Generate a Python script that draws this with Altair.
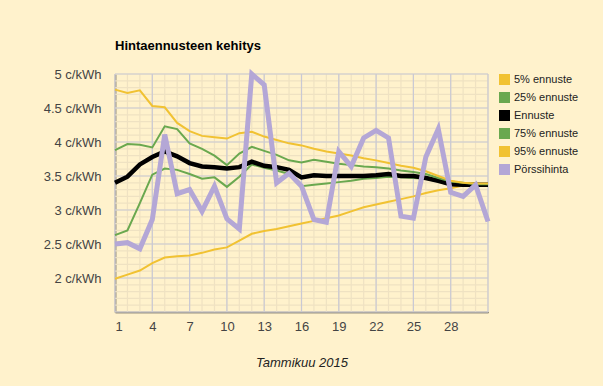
import altair as alt
import pandas as pd

days = list(range(1, 32))

series_names = ["5% ennuste", "25% ennuste", "Ennuste", "75% ennuste", "95% ennuste", "Pörssihinta"]
series_colors = ["#F1C232", "#6AA84F", "#000000", "#6AA84F", "#F1C232", "#B4A7D6"]
series_widths = [2, 2, 4.5, 2, 2, 5]

p5 = [1.99, 2.05, 2.11, 2.22, 2.30, 2.32, 2.33, 2.37, 2.42, 2.45, 2.55, 2.65, 2.69, 2.72, 2.76, 2.80,
      2.84, 2.88, 2.92, 2.98, 3.04, 3.08, 3.12, 3.16, 3.20, 3.25, 3.29, 3.32, 3.36, 3.37, 3.37]
p25 = [2.63, 2.70, 3.10, 3.52, 3.61, 3.59, 3.53, 3.46, 3.48, 3.34, 3.49, 3.67, 3.62, 3.58, 3.53, 3.35,
       3.37, 3.39, 3.41, 3.43, 3.46, 3.47, 3.49, 3.48, 3.47, 3.46, 3.42, 3.39, 3.37, 3.37, 3.37]
ennuste = [3.40, 3.49, 3.67, 3.78, 3.86, 3.79, 3.69, 3.64, 3.63, 3.61, 3.63, 3.71, 3.65, 3.63, 3.59, 3.48,
           3.51, 3.50, 3.50, 3.50, 3.50, 3.51, 3.53, 3.50, 3.50, 3.47, 3.43, 3.38, 3.37, 3.37, 3.37]
p75 = [3.88, 3.97, 3.96, 3.92, 4.23, 4.19, 3.98, 3.90, 3.80, 3.66, 3.83, 3.93, 3.87, 3.81, 3.73, 3.70,
       3.74, 3.71, 3.68, 3.66, 3.64, 3.63, 3.61, 3.58, 3.56, 3.53, 3.47, 3.42, 3.40, 3.38, 3.38]
p95 = [4.77, 4.72, 4.76, 4.53, 4.51, 4.28, 4.16, 4.09, 4.07, 4.05, 4.13, 4.15, 4.08, 4.03, 3.98, 3.95,
       3.90, 3.86, 3.83, 3.80, 3.76, 3.73, 3.69, 3.65, 3.62, 3.57, 3.50, 3.43, 3.40, 3.39, 3.39]
porssi = [2.50, 2.52, 2.43, 2.86, 4.11, 3.24, 3.30, 2.98, 3.35, 2.87, 2.72, 5.00, 4.84, 3.40, 3.54, 3.35,
          2.86, 2.82, 3.86, 3.64, 4.06, 4.17, 4.06, 2.91, 2.88, 3.78, 4.19, 3.26, 3.20, 3.37, 2.83]

# tick / grid values
x_labels = [1, 4, 7, 10, 13, 16, 19, 22, 25, 28]
x_minor = list(range(1, 32))
x_major = list(range(1, 32, 3))
y_labels = [2.0, 2.5, 3.0, 3.5, 4.0, 4.5, 5.0]
y_minor = [round(1.5 + 0.1 * i, 1) for i in range(36)]
y_major = [1.5, 2.0, 2.5, 3.0, 3.5, 4.0, 4.5, 5.0]

all_series = [p5, p25, ennuste, p75, p95, porssi]
rows = []
for name, vals in zip(series_names, all_series):
    for d, v in zip(days, vals):
        rows.append({"day": d, "value": v, "series": name})
df = pd.DataFrame(rows)

FONT = "Liberation Sans"
MAJOR = "#C9C9D4"
MINOR = "#EFE2C2"

x_scale = alt.Scale(domain=[1, 31], nice=False, zero=False)
y_scale = alt.Scale(domain=[1.5, 5], nice=False, zero=False)

x_axis = alt.Axis(
    values=x_labels,
    labelOverlap=False,
    ticks=False,
    grid=False,
    domainColor="#333333",
    domainWidth=1.5,
    labelFont=FONT,
    labelFontSize=13,
    labelColor="#444444",
    labelPadding=8,
    title="Tammikuu 2015",
    titleFont=FONT,
    titleFontSize=13,
    titleFontStyle="italic",
    titleFontWeight="normal",
    titleColor="#222222",
    titlePadding=23,
)
y_axis = alt.Axis(
    values=y_labels,
    labelOverlap=False,
    labelExpr="datum.value + ' c/kWh'",
    ticks=False,
    grid=False,
    domainColor="#333333",
    domainWidth=1.5,
    labelFont=FONT,
    labelFontSize=13,
    labelColor="#444444",
    labelPadding=14,
    title=None,
)


def X(field):
    return alt.X(field, type="quantitative", scale=x_scale, axis=x_axis)


def Y(field):
    return alt.Y(field, type="quantitative", scale=y_scale, axis=y_axis)


vminor = alt.Chart(pd.DataFrame({"x": x_minor})).mark_rule(color=MINOR, strokeWidth=1.2).encode(x=X("x"))
hminor = alt.Chart(pd.DataFrame({"y": y_minor})).mark_rule(color=MINOR, strokeWidth=1.2).encode(y=Y("y"))
vmajor = alt.Chart(pd.DataFrame({"x": x_major})).mark_rule(color=MAJOR, strokeWidth=1.2).encode(x=X("x"))
hmajor = alt.Chart(pd.DataFrame({"y": y_major})).mark_rule(color=MAJOR, strokeWidth=1.2).encode(y=Y("y"))

line_layers = []
for name, color, w in zip(series_names, series_colors, series_widths):
    line_layers.append(
        alt.Chart(df)
        .transform_filter(alt.datum.series == name)
        .mark_line(color=color, strokeWidth=w, strokeJoin="miter")
        .encode(x=X("day"), y=Y("value"), order=alt.Order("day:Q"))
    )

legend_layer = alt.Chart(df).transform_filter("false").mark_square().encode(
    x=X("day"),
    y=Y("value"),
    fill=alt.Fill(
        "series:N",
        scale=alt.Scale(domain=series_names, range=series_colors),
        legend=alt.Legend(
            title=None,
            orient="none",
            legendX=384,
            legendY=0,
            symbolType="square",
            symbolSize=121,
            symbolStrokeWidth=0,
            symbolOpacity=1,
            labelFont=FONT,
            labelFontSize=11,
            labelColor="#222222",
            rowPadding=6,
            padding=0,
            labelOffset=4,
        ),
    ),
)

chart = alt.layer(vminor, hminor, vmajor, hmajor, *line_layers, legend_layer).properties(
    width=373,
    height=238,
    title=alt.TitleParams(
        "Hintaennusteen kehitys",
        anchor="start",
        frame="group",
        font=FONT,
        fontSize=13,
        fontWeight="bold",
        color="#000000",
        offset=11,
    ),
    background="#FFF2CC",
    padding={"left": 115, "top": 74, "right": 115, "bottom": 74},
    autosize=alt.AutoSizeParams(type="none"),
).configure_view(strokeWidth=0)

chart.save("out.html", embed_options={"renderer": "svg", "actions": False})
